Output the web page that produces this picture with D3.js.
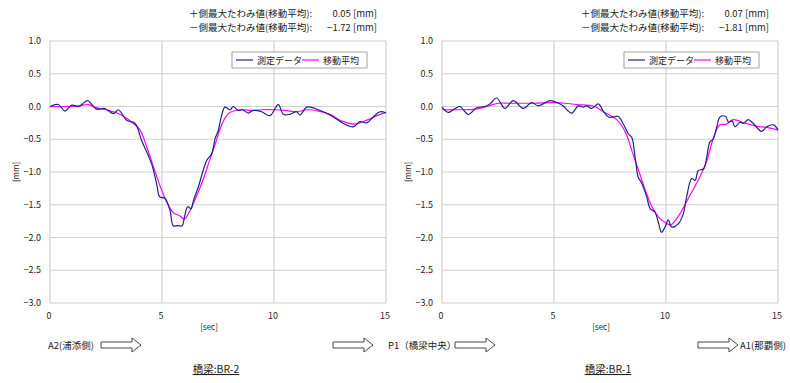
<!DOCTYPE html>
<html>
<head>
<meta charset="utf-8">
<script src="https://cdn.jsdelivr.net/npm/d3@7"></script>
<style>
  body { margin: 0; background: #fff; }
  svg text { font-family: "Noto Sans CJK JP", "Noto Sans", sans-serif; fill: #222; }
</style>
</head>
<body>
<svg id="chart" width="790" height="383"></svg>
<script>
// x ticks [sec], y ticks [mm]
var xTicks = [0, 5, 10, 15];
var yTicks = [1.0, 0.5, 0.0, -0.5, -1.0, -1.5, -2.0, -2.5, -3.0];
var seriesNames = ["測定データ", "移動平均"];
var seriesColors = ["#22228a", "#ff00ff"];

// BR-2 : [time sec, deflection mm]
var br2Measured = [
  [0, 0.0], [0.37, 0.03], [0.67, -0.07], [0.97, 0.02], [1.27, 0.0], [1.45, 0.04], [1.68, 0.09],
  [2.08, -0.04], [2.45, -0.03], [2.83, -0.11], [3.05, -0.05], [3.42, -0.21], [3.8, -0.26],
  [4.09, -0.52], [4.3, -0.68], [4.54, -0.88], [4.76, -1.18], [4.9, -1.38], [5.13, -1.40],
  [5.36, -1.59], [5.5, -1.82], [5.7, -1.82], [5.9, -1.82], [6.0, -1.69], [6.15, -1.53],
  [6.3, -1.56], [6.4, -1.44], [6.62, -1.23], [7.0, -0.82], [7.22, -0.72], [7.37, -0.49],
  [7.51, -0.37], [7.65, -0.15], [7.81, -0.01], [8.04, -0.05], [8.18, 0.0], [8.4, -0.06],
  [8.6, -0.05], [8.85, -0.1], [9.07, -0.06], [9.45, -0.08], [9.82, -0.14], [10.19, 0.03],
  [10.42, -0.12], [10.7, -0.12], [11.01, -0.08], [11.16, -0.13], [11.46, -0.01], [11.83, -0.03],
  [12.2, -0.08], [12.65, -0.16], [13.1, -0.26], [13.54, -0.31], [13.84, -0.23], [14.14, -0.25],
  [14.43, -0.16], [14.73, -0.08], [15.0, -0.1]
];
var br2Average = [
  [0, 0.0], [0.8, 0.0], [1.3, 0.01], [1.7, 0.03], [2.1, -0.02], [2.5, -0.05], [3.0, -0.1],
  [3.5, -0.2], [4.0, -0.35], [4.3, -0.6], [4.6, -0.9], [4.9, -1.2], [5.2, -1.45], [5.5, -1.62],
  [5.8, -1.67], [6.0, -1.72], [6.2, -1.62], [6.5, -1.4], [6.8, -1.15], [7.1, -0.85],
  [7.4, -0.55], [7.7, -0.25], [8.0, -0.1], [8.5, -0.05], [9.0, -0.06], [9.5, -0.05],
  [10.0, -0.05], [10.5, -0.06], [11.0, -0.08], [11.5, -0.05], [12.0, -0.07], [12.5, -0.12],
  [13.0, -0.22], [13.3, -0.25], [13.6, -0.27], [14.2, -0.2], [14.6, -0.14], [15.0, -0.09]
];

// BR-1 : [time sec, deflection mm]
var br1Measured = [
  [0, -0.01], [0.28, -0.09], [0.5, -0.05], [0.8, 0.0], [1.17, -0.12], [1.55, -0.02], [1.92, 0.0],
  [2.14, 0.04], [2.44, 0.13], [2.81, -0.03], [3.18, 0.09], [3.63, -0.03], [4.0, 0.06],
  [4.3, 0.01], [4.82, 0.09], [5.2, 0.05], [5.4, 0.01], [5.79, -0.1], [6.08, 0.01], [6.3, -0.01],
  [6.45, 0.01], [6.68, -0.03], [6.98, 0.04], [7.2, -0.07], [7.43, -0.16], [7.65, -0.16],
  [7.86, -0.15], [8.1, -0.27], [8.32, -0.42], [8.47, -0.47], [8.62, -0.77], [8.76, -1.08],
  [8.9, -1.16], [9.14, -1.38], [9.29, -1.56], [9.5, -1.61], [9.66, -1.77], [9.8, -1.92],
  [9.96, -1.84], [10.1, -1.73], [10.25, -1.84], [10.55, -1.79], [10.77, -1.64], [10.92, -1.38],
  [11.15, -1.1], [11.3, -1.13], [11.44, -0.98], [11.68, -0.95], [11.82, -0.77], [11.96, -0.54],
  [12.1, -0.5], [12.26, -0.32], [12.41, -0.16], [12.65, -0.15], [12.8, -0.24], [12.95, -0.22],
  [13.08, -0.31], [13.3, -0.24], [13.45, -0.26], [13.67, -0.2], [13.9, -0.26], [14.27, -0.38],
  [14.5, -0.31], [14.8, -0.28], [15.0, -0.36]
];
var br1Average = [
  [0, -0.05], [0.7, -0.05], [1.5, -0.04], [2.0, 0.0], [2.5, 0.05], [3.0, 0.05], [4.0, 0.05],
  [5.0, 0.06], [5.5, 0.05], [6.0, 0.03], [6.8, 0.0], [7.3, -0.1], [7.8, -0.2], [8.2, -0.4],
  [8.5, -0.7], [8.8, -1.0], [9.1, -1.3], [9.4, -1.55], [9.7, -1.7], [10.0, -1.78], [10.2, -1.81],
  [10.6, -1.65], [11.0, -1.4], [11.4, -1.15], [11.8, -0.85], [12.1, -0.5], [12.4, -0.28],
  [12.7, -0.27], [13.0, -0.2], [13.5, -0.25], [14.0, -0.3], [14.5, -0.32], [15.0, -0.36]
];

var br2Stats = ["0.05", "-1.72"];
var br1Stats = ["0.07", "-1.81"];

var svg = d3.select("#chart");

function drawChart(left, measured, average, stats, title) {
    var plot = {left: left, right: left + 336, top: 41, bottom: 303};

    var x = d3.scaleLinear().domain([0, 15]).range([plot.left, plot.right]);
    var y = d3.scaleLinear().domain([-3, 1]).range([plot.bottom, plot.top]);

    var g = svg.append("g");

    /* Grid */
    g.selectAll(".hgrid").data(yTicks).enter().append("line")
        .attr("x1", plot.left).attr("x2", plot.right)
        .attr("y1", function(d){ return y(d); }).attr("y2", function(d){ return y(d); })
        .attr("stroke", "#d0d0d0").attr("stroke-width", 1);
    g.selectAll(".vgrid").data(xTicks).enter().append("line")
        .attr("x1", function(d){ return x(d); }).attr("x2", function(d){ return x(d); })
        .attr("y1", plot.top).attr("y2", plot.bottom)
        .attr("stroke", "#c8c8c8").attr("stroke-width", 1);

    /* Tick labels */
    g.selectAll(".ylab").data(yTicks).enter().append("text")
        .attr("x", plot.left - 9).attr("y", function(d){ return y(d) + 3; })
        .attr("text-anchor", "end").attr("font-size", 9)
        .text(function(d){ return d3.format(".1f")(d).replace("-", "−"); });
    g.selectAll(".xlab").data(xTicks).enter().append("text")
        .attr("x", function(d){ return x(d) - 1; }).attr("y", plot.bottom + 16)
        .attr("text-anchor", "middle").attr("font-size", 9)
        .text(function(d){ return d; });

    g.append("text")
        .attr("transform", "translate(" + (plot.left - 31) + "," + y(-1) + ") rotate(-90)")
        .attr("text-anchor", "middle").attr("font-size", 8).text("[mm]");
    g.append("text")
        .attr("x", x(7.1)).attr("y", plot.bottom + 27)
        .attr("text-anchor", "middle").attr("font-size", 8).text("[sec]");

    /* Lines */
    var line = d3.line()
        .x(function(d){ return x(d[0]); })
        .y(function(d){ return y(d[1]); })
        .curve(d3.curveCatmullRom);
    g.append("path").datum(average)
        .attr("d", line).attr("fill", "none")
        .attr("stroke", seriesColors[1]).attr("stroke-width", 1.2);
    g.append("path").datum(measured)
        .attr("d", line).attr("fill", "none")
        .attr("stroke", seriesColors[0]).attr("stroke-width", 1.2);

    /* Legend */
    var lg = g.append("g").attr("transform", "translate(" + (plot.left + 182) + ",52)");
    lg.append("rect").attr("width", 135).attr("height", 16)
        .attr("fill", "#fff").attr("stroke", "#909090").attr("stroke-width", 0.8);
    seriesNames.forEach(function(name, i){
        var ox = 4 + i * 66;
        lg.append("line").attr("x1", ox).attr("x2", ox + 17).attr("y1", 8).attr("y2", 8)
            .attr("stroke", seriesColors[i]).attr("stroke-width", 1.2);
        lg.append("text").attr("x", ox + 21).attr("y", 11.5).attr("font-size", 9).text(name);
    });

    /* Header */
    var labels = ["＋側最大たわみ値(移動平均):", "－側最大たわみ値(移動平均):"];
    labels.forEach(function(t, i){
        g.append("text").attr("x", plot.left + 139).attr("y", 17 + i * 14)
            .attr("font-size", 9.5).style("fill", "#222").text(t);
        g.append("text").attr("x", plot.right - 9).attr("y", 17 + i * 14)
            .attr("text-anchor", "end").attr("font-size", 9.5)
            .text(stats[i].replace("-", "−") + " [mm]");
    });

    /* Title */
    g.append("text").attr("x", x(7.5) - 2).attr("y", 373)
        .attr("text-anchor", "middle").attr("font-size", 10.5)
        .attr("text-decoration", "underline").text(title);
}

function drawArrow(x0, yc) {
    var pts = [[x0, yc - 3], [x0 + 31, yc - 3], [x0 + 31, yc - 7], [x0 + 40, yc],
               [x0 + 31, yc + 7], [x0 + 31, yc + 3], [x0, yc + 3]];
    svg.append("polygon")
        .attr("points", pts.map(function(p){ return p.join(","); }).join(" "))
        .attr("fill", "#fff").attr("stroke", "#333").attr("stroke-width", 0.9);
}

drawChart(50, br2Measured, br2Average, br2Stats, "橋梁:BR-2");
drawChart(442, br1Measured, br1Average, br1Stats, "橋梁:BR-1");

/* Direction labels */
var dirLabels = [[48, "A2(浦添側)"], [388, "P1（橋梁中央）"], [740, "A1(那覇側)"]];
dirLabels.forEach(function(d){
    svg.append("text").attr("x", d[0]).attr("y", 349).attr("font-size", 9.5).text(d[1]);
});
[101, 333, 455, 698].forEach(function(xa){ drawArrow(xa, 345); });
</script>
</body>
</html>
